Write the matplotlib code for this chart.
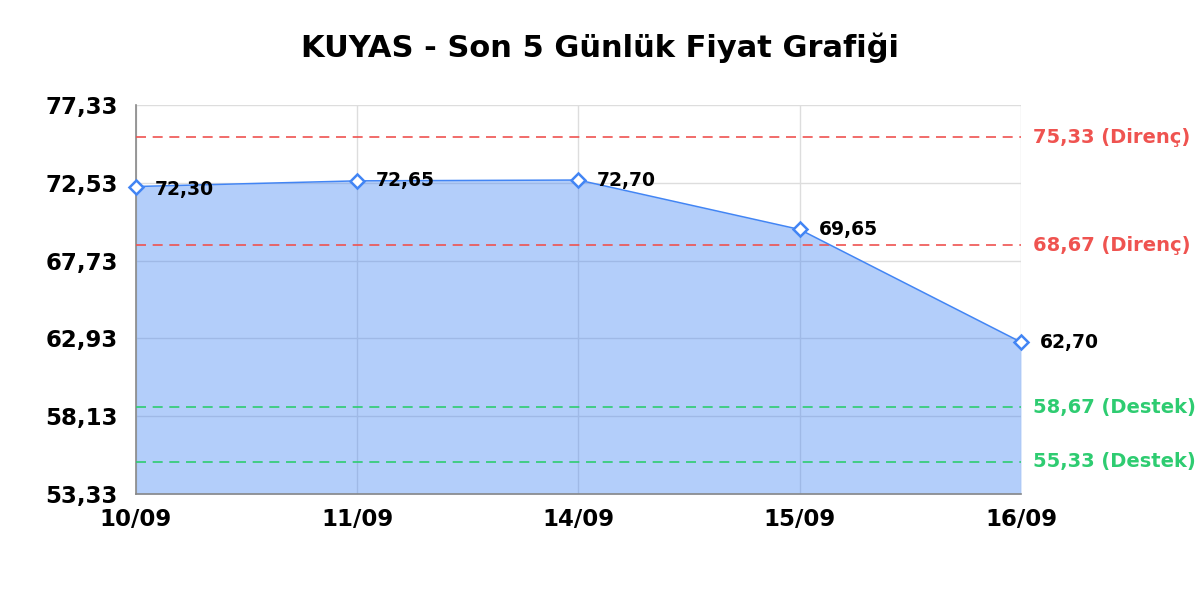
import matplotlib
matplotlib.use("Agg")
from matplotlib import pyplot as plt

# Data
dates = ["10/09", "11/09", "14/09", "15/09", "16/09"]
prices = [72.30, 72.65, 72.70, 69.65, 62.70]
price_labels = ["72,30", "72,65", "72,70", "69,65", "62,70"]
resistance = [75.33, 68.67]
support = [58.67, 55.33]
y_ticks = [53.33, 58.13, 62.93, 67.73, 72.53, 77.33]

plt.rcParams["font.family"] = ["DejaVu Sans"]
plt.rcParams["font.weight"] = "bold"

fig = plt.figure(figsize=(12, 6), dpi=100)
ax = fig.add_axes([0.1133, 0.1767, 0.7375, 0.6483])

x = list(range(len(dates)))
blue = "#4285f4"

ax.set_axisbelow(True)
ax.grid(True, color="#dddddd", linewidth=1)
ax.fill_between(x, prices, y_ticks[0], color=blue, alpha=0.4, linewidth=0, zorder=1)
ax.plot(x, prices, color=blue, linewidth=1.1, marker="D", markersize=7,
        markerfacecolor="white", markeredgecolor=blue, markeredgewidth=1.8,
        zorder=5, clip_on=False)

for i, lbl in enumerate(price_labels):
    dy = -2 if i == 0 else 0
    ax.annotate(lbl, (x[i], prices[i]), xytext=(13.5, dy), textcoords="offset points",
                ha="left", va="center", fontsize=13.5, fontweight="bold",
                color="black", zorder=6)

for r in resistance:
    ax.axhline(r, color="#ef5350", linestyle=(0, (6, 4)), linewidth=1.2, zorder=3)
    ax.text(1.014, r, f"{r:.2f}".replace(".", ",") + " (Direnç)",
            transform=ax.get_yaxis_transform(), ha="left", va="center",
            fontsize=14, fontweight="bold", color="#ef5350")
for s in support:
    ax.axhline(s, color="#2ecc71", linestyle=(0, (6, 4)), linewidth=1.2, zorder=3)
    ax.text(1.014, s, f"{s:.2f}".replace(".", ",") + " (Destek)",
            transform=ax.get_yaxis_transform(), ha="left", va="center",
            fontsize=14, fontweight="bold", color="#2ecc71")

ax.set_xlim(0, len(dates) - 1)
ax.set_ylim(y_ticks[0], y_ticks[-1])
ax.set_xticks(x)
ax.set_xticklabels(dates, fontsize=16.5, fontweight="bold")
ax.set_yticks(y_ticks)
ax.set_yticklabels([f"{v:.2f}".replace(".", ",") for v in y_ticks],
                   fontsize=16.5, fontweight="bold")
ax.tick_params(axis="both", length=0)
ax.tick_params(axis="y", pad=13)
ax.tick_params(axis="x", pad=10)

for side in ["top", "right"]:
    ax.spines[side].set_visible(False)
for side in ["left", "bottom"]:
    ax.spines[side].set_color("#888888")
    ax.spines[side].set_linewidth(1.2)

fig.text(0.5, 0.92, "KUYAS - Son 5 Günlük Fiyat Grafiği", fontsize=22,
         fontweight="bold", ha="center", va="center")

fig.savefig("out.png", dpi=100)
